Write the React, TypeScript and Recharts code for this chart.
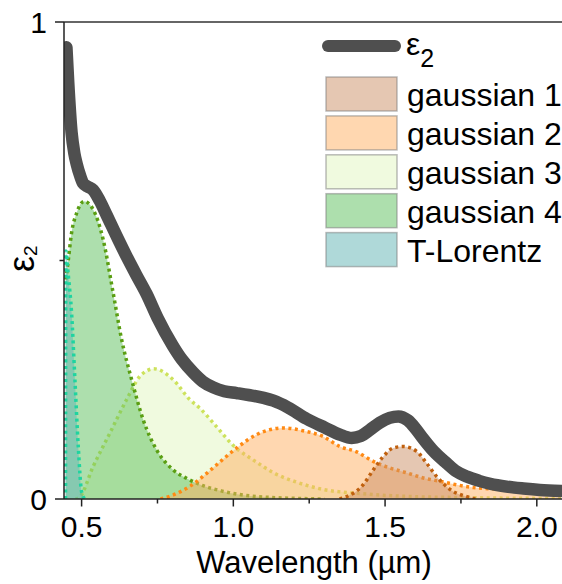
import React from "react";
import {
	ComposedChart,
	Area,
	Line,
	XAxis,
	YAxis,
	ReferenceLine,
	Legend,
} from "recharts";

// wavelength (µm), value pairs
const eps2: [number, number][] = [
	[0.45, 0.947], [0.456, 0.873], [0.467, 0.768], [0.476, 0.725], [0.484, 0.702],
	[0.495, 0.678], [0.505, 0.662], [0.52, 0.655], [0.538, 0.648], [0.56, 0.625],
	[0.582, 0.596], [0.62, 0.545], [0.648, 0.509], [0.68, 0.47], [0.714, 0.43],
	[0.75, 0.38], [0.8, 0.322], [0.83, 0.293], [0.868, 0.265], [0.9, 0.246],
	[0.934, 0.234], [0.97, 0.226], [1.011, 0.222], [1.05, 0.218], [1.1, 0.212],
	[1.132, 0.206], [1.18, 0.192], [1.242, 0.168], [1.3, 0.15], [1.351, 0.135],
	[1.39, 0.128], [1.42, 0.132], [1.45, 0.145], [1.483, 0.16], [1.515, 0.17],
	[1.544, 0.173], [1.575, 0.165], [1.6, 0.148], [1.626, 0.126], [1.66, 0.1],
	[1.703, 0.075], [1.735, 0.058], [1.769, 0.047], [1.81, 0.038], [1.846, 0.032],
	[1.9, 0.026], [1.956, 0.022], [2.01, 0.019], [2.08, 0.017],
];

const gauss1: [number, number][] = [
	[1.35, 0], [1.373, 0.005], [1.428, 0.03], [1.461, 0.061], [1.494, 0.089],
	[1.527, 0.107], [1.56, 0.11], [1.604, 0.1], [1.637, 0.075], [1.67, 0.047],
	[1.714, 0.02], [1.769, 0.005], [1.8, 0],
];

const gauss2: [number, number][] = [
	[0.76, 0], [0.8, 0.008], [0.86, 0.028], [0.92, 0.058], [0.96, 0.08],
	[1.011, 0.107], [1.077, 0.135], [1.165, 0.149], [1.23, 0.143], [1.296, 0.131],
	[1.351, 0.11], [1.406, 0.099], [1.461, 0.079], [1.516, 0.065], [1.571, 0.055],
	[1.626, 0.044], [1.681, 0.037], [1.791, 0.024], [1.901, 0.02], [2.011, 0.016],
	[2.08, 0.013],
];

const gauss3: [number, number][] = [
	[0.48, 0], [0.495, 0.005], [0.538, 0.068], [0.593, 0.138], [0.648, 0.208],
	[0.692, 0.257], [0.738, 0.273], [0.802, 0.25], [0.857, 0.208], [0.89, 0.19],
	[0.94, 0.155], [1.0, 0.112], [1.07, 0.08], [1.132, 0.055], [1.21, 0.035],
	[1.296, 0.02], [1.406, 0.012], [1.55, 0.006], [1.75, 0.003], [2.08, 0.001],
];

const gauss4: [number, number][] = [
	[0.448, 0.46], [0.456, 0.5], [0.467, 0.558], [0.484, 0.6], [0.508, 0.624],
	[0.538, 0.607], [0.571, 0.544], [0.604, 0.432], [0.632, 0.334], [0.665, 0.25],
	[0.703, 0.166], [0.75, 0.1], [0.8, 0.062], [0.85, 0.042], [0.9, 0.028],
	[0.96, 0.017], [1.08, 0.005], [1.3, 0],
];

const tLorentz: [number, number][] = [
	[0.447, 0], [0.448, 0.52], [0.456, 0.47], [0.467, 0.39], [0.478, 0.25],
	[0.489, 0.11], [0.5, 0.015], [0.51, 0],
];

const X_TICKS = [0.5, 0.75, 1.0, 1.25, 1.5, 1.75, 2.0];
const X_LABELS = ["0.5", "", "1.0", "", "1.5", "", "2.0"];
const Y_TICKS = [0, 0.5, 1];
const Y_LABELS = ["0", "", "1"];

const FONT = "'Liberation Sans', Arial, sans-serif";

const AREAS = [
	{ key: "g3", name: "gaussian 3", pts: gauss3, fill: "#e2f5c0", stroke: "#cde25c" },
	{ key: "g4", name: "gaussian 4", pts: gauss4, fill: "#5cbf5c", stroke: "#5a9e12" },
	{ key: "g2", name: "gaussian 2", pts: gauss2, fill: "#ffb062", stroke: "#ff8a14" },
	{ key: "g1", name: "gaussian 1", pts: gauss1, fill: "#cc9066", stroke: "#c0600e" },
	{ key: "tl", name: "T-Lorentz", pts: tLorentz, fill: "#5fb3b3", stroke: "#1fd4a0" },
];

const LEGEND_ORDER = ["g1", "g2", "g3", "g4", "tl"];

// merge every series onto one x table
const allSeries: [string, [number, number][]][] = [
	["eps2", eps2],
	...AREAS.map((a) => [a.key, a.pts] as [string, [number, number][]]),
];
const xs = Array.from(
	new Set(allSeries.flatMap(([, pts]) => pts.map((p) => p[0])))
).sort((a, b) => a - b);
const rows = xs.map((x) => {
	const r: Record<string, number> = { x };
	for (const [k, pts] of allSeries) {
		const hit = pts.find((p) => p[0] === x);
		if (hit) r[k] = hit[1];
	}
	return r;
});

function XTick(props: any) {
	const { x, y, payload } = props;
	const i = X_TICKS.indexOf(payload.value);
	const label = X_LABELS[i] ?? "";
	const major = label !== "";
	return (
		<g>
			<line x1={x} x2={x} y1={y} y2={y + (major ? 7.5 : 4.5)} stroke="#222" strokeWidth={1.5} />
			{major && (
				<text x={x} y={y + 38} textAnchor="middle" fontSize={30} fontFamily={FONT} fill="#000">
					{label}
				</text>
			)}
		</g>
	);
}

function YTick(props: any) {
	const { x, y, payload } = props;
	const i = Y_TICKS.indexOf(payload.value);
	const label = Y_LABELS[i] ?? "";
	const major = label !== "";
	return (
		<g>
			<line x1={x - (major ? 9 : 4.5)} x2={x} y1={y} y2={y} stroke="#222" strokeWidth={1.5} />
			{major && (
				<text x={x - 17} y={y + 10.5} textAnchor="end" fontSize={30} fontFamily={FONT} fill="#000">
					{label}
				</text>
			)}
		</g>
	);
}

const renderYLabel = () => (
	<text transform="translate(34,272) rotate(-90)" fontFamily={FONT} fill="#000">
		<tspan fontSize={36}>ε</tspan>
		<tspan fontSize={19} dy={3}>2</tspan>
	</text>
);

const renderXLabel = () => (
	<text x={314} y={573} textAnchor="middle" fontSize={31} fontFamily={FONT} fill="#000">
		Wavelength (µm)
	</text>
);

const renderLegend = () => (
	<svg width={252} height={260} style={{ display: "block" }}>
		<line x1={18} x2={85} y1={26} y2={26} stroke="#4f4f4f" strokeWidth={12} strokeLinecap="round" />
		<text x={96} y={35} fontFamily={FONT} fill="#000">
			<tspan fontSize={32}>ε</tspan>
			<tspan fontSize={25} dy={12}>2</tspan>
		</text>
		{LEGEND_ORDER.map((k, i) => {
			const a = AREAS.find((s) => s.key === k)!;
			const top = 57 + i * 38.9;
			return (
				<g key={k}>
					<rect x={16} y={top} width={71} height={34} fill="#fff" />
					<rect
						x={16}
						y={top}
						width={71}
						height={34}
						fill={a.fill}
						fillOpacity={0.5}
						stroke="#7a7a7a"
						strokeOpacity={0.5}
						strokeWidth={1.5}
					/>
					<text x={97} y={top + 29} fontSize={32} fontFamily={FONT} fill="#000">
						{a.name}
					</text>
				</g>
			);
		})}
	</svg>
);

export default function App() {
	return (
		<div style={{ position: "absolute", left: 0, top: 0, background: "#fff" }}>
			<ComposedChart
				width={562}
				height={584}
				data={rows}
				margin={{ top: 22, right: 0, bottom: 0, left: 0 }}
			>
				<XAxis
					dataKey="x"
					type="number"
					domain={[0.442, 2.083]}
					allowDataOverflow
					ticks={X_TICKS}
					interval={0}
					tick={XTick}
					tickLine={false}
					tickSize={0}
					tickMargin={0}
					axisLine={{ stroke: "#222", strokeWidth: 1.5 }}
					height={85}
					label={{ content: renderXLabel }}
				/>
				<YAxis
					type="number"
					domain={[0, 1]}
					allowDataOverflow
					ticks={Y_TICKS}
					interval={0}
					tick={YTick}
					tickLine={false}
					tickSize={0}
					tickMargin={0}
					axisLine={{ stroke: "#222", strokeWidth: 1.5 }}
					width={64}
					label={{ content: renderYLabel }}
				/>
				<ReferenceLine y={1} stroke="#333" strokeWidth={1.5} />
				{AREAS.map((a) => (
					<Area
						key={a.key}
						dataKey={a.key}
						name={a.name}
						type="monotone"
						connectNulls
						fill={a.fill}
						fillOpacity={0.5}
						stroke={a.stroke}
						strokeWidth={3.5}
						strokeDasharray="3 3.5"
						dot={false}
						activeDot={false}
						isAnimationActive={false}
					/>
				))}
				<Line
					dataKey="eps2"
					name="ε2"
					type="monotone"
					connectNulls
					stroke="#4f4f4f"
					strokeWidth={12.5}
					strokeLinecap="round"
					strokeLinejoin="round"
					dot={false}
					activeDot={false}
					isAnimationActive={false}
				/>
				<Legend
					layout="vertical"
					align="center"
					verticalAlign="middle"
					content={renderLegend}
					wrapperStyle={{ left: 310, top: 20, width: 252, height: 260 }}
				/>
			</ComposedChart>
		</div>
	);
}
